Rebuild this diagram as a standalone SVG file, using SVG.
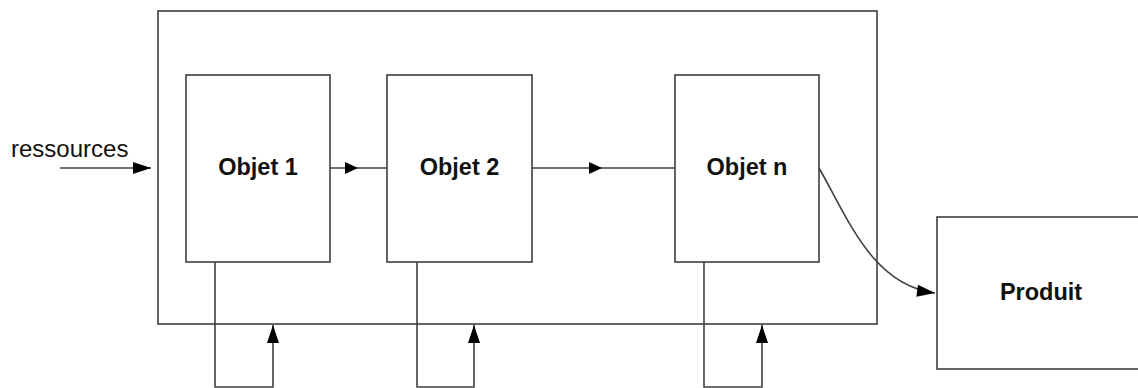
<svg xmlns="http://www.w3.org/2000/svg" width="1138" height="388" viewBox="0 0 1138 388">
<style>
.box{fill:#fff;stroke:#404040;stroke-width:1.6}
.ln{fill:none;stroke:#404040;stroke-width:1.6}
.lbl{font-family:"Liberation Sans",Arial,sans-serif;font-size:23.5px;font-weight:bold;fill:#111;text-anchor:middle}
.txt{font-family:"Liberation Sans",Arial,sans-serif;font-size:24px;fill:#111}
</style>
<defs>
<marker id="endArrow" markerUnits="userSpaceOnUse" markerWidth="18" markerHeight="12" refX="18" refY="6" orient="auto" overflow="visible">
<path d="M0,0 L18,6 L0,12 z" fill="#000"/>
</marker>
<marker id="midArrow" markerUnits="userSpaceOnUse" markerWidth="13" markerHeight="12" refX="13" refY="6" orient="auto" overflow="visible">
<path d="M0,0 L13,6 L0,12 z" fill="#000"/>
</marker>
</defs>
<g id="systeme"><rect class="box" x="158" y="11" width="719" height="313"/></g>
<g id="objet1"><rect class="box" x="186" y="75" width="144" height="187"/><text class="lbl" x="258" y="175">Objet 1</text></g>
<g id="objet2"><rect class="box" x="387" y="75" width="145" height="187"/><text class="lbl" x="459.5" y="175">Objet 2</text></g>
<g id="objetn"><rect class="box" x="675" y="75" width="144" height="187"/><text class="lbl" x="747" y="175">Objet n</text></g>
<g id="produit"><rect class="box" x="937" y="217" width="215" height="152"/><text class="lbl" x="1041" y="300">Produit</text></g>
<g id="ressources-label"><text class="txt" x="11" y="157">ressources</text></g>
<g id="connectors">
<path class="ln" d="M60,168 H151" marker-end="url(#endArrow)"/>
<path class="ln" d="M330,168 L358,168 L387,168" marker-mid="url(#midArrow)"/>
<path class="ln" d="M532,168 L602,168 L675,168" marker-mid="url(#midArrow)"/>
<path class="ln" d="M819,168 C848,218 872,285 935,293" marker-end="url(#endArrow)"/>
<path class="ln" d="M215,262 V387 H273 V325" marker-end="url(#endArrow)"/>
<path class="ln" d="M417,262 V387 H474 V325" marker-end="url(#endArrow)"/>
<path class="ln" d="M704,262 V387 H762 V325" marker-end="url(#endArrow)"/>
</g>
</svg>
